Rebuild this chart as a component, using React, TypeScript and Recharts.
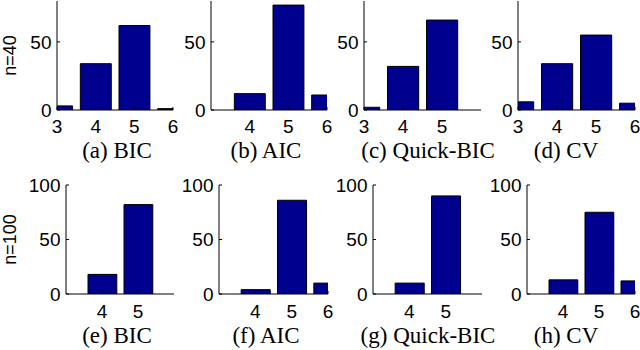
import React from 'react';
import { BarChart, Bar, XAxis, YAxis } from 'recharts';

// ---- data ----
const catsA = [3, 4, 5, 6];
const bicN40 = [3, 34, 62, 1];
const catsB = [4, 5, 6];
const aicN40 = [12, 77, 11];
const catsC = [3, 4, 5];
const quickBicN40 = [2, 32, 66];
const catsD = [3, 4, 5, 6];
const cvN40 = [6, 34, 55, 5];

const catsE = [4, 5];
const bicN100 = [18, 82];
const catsF = [4, 5, 6];
const aicN100 = [4, 86, 10];
const catsG = [4, 5];
const quickBicN100 = [10, 90];
const catsH = [4, 5, 6];
const cvN100 = [13, 75, 12];

const xTicksA = [3, 4, 5, 6];
const xTicksB = [4, 5, 6];
const xTicksC = [3, 4, 5];
const xTicksD = [3, 4, 5, 6];
const xTicksE = [4, 5];
const xTicksF = [4, 5, 6];
const xTicksG = [4, 5];
const xTicksH = [4, 5, 6];

const xDomain = [3, 6];
const yTicksN40 = [0, 50];
const yTicksN100 = [0, 50, 100];
const yMaxN40 = 80;
const yMaxN100 = 100;

const captionsTop = ['(a) BIC', '(b) AIC', '(c) Quick-BIC', '(d) CV'];
const captionsBottom = ['(e) BIC', '(f) AIC', '(g) Quick-BIC', '(h) CV'];
const rowLabels = ['n=40', 'n=100'];

// ---- layout ----
const BAR_FILL = '#00008F';
const SANS = '"Liberation Sans", Arial, sans-serif';
const SERIF = '"Liberation Serif", "Times New Roman", serif';

type PanelProps = {
  left: number; right: number; top: number; bottom: number;
  cats: number[]; vals: number[]; xTicks: number[]; yTicks: number[]; yMax: number;
  caption: string; captionCenter: number; captionBaseline: number; tickMargin: number;
  rowLabel?: string;
};

function Panel(p: PanelProps) {
  const yAxisW = p.rowLabel ? p.left : 42;
  const chartLeft = p.left - yAxisW;
  const mTop = 14;
  const mRight = 40;
  const mBottom = 10;
  const plotW = p.right - p.left;
  const plotH = p.bottom - p.top;
  const xAxisH = p.captionBaseline - p.bottom;
  const width = yAxisW + plotW + mRight;
  const height = mTop + plotH + xAxisH + mBottom;
  const data = p.cats.map((k, i) => ({ k, v: p.vals[i] }));
  const barSize = (0.8 * plotW) / (xDomain[1] - xDomain[0]);
  const tickStyle = { fontFamily: SANS, fontSize: 19, fill: '#000' };
  const captionDx = p.captionCenter - (p.left + p.right) / 2;

  return (
    <div style={{ position: 'absolute', left: chartLeft, top: p.top - mTop, width, height }}>
      <BarChart
        width={width}
        height={height}
        data={data}
        margin={{ top: mTop, right: mRight, bottom: mBottom, left: 0 }}
        barCategoryGap="10%"
      >
        <XAxis
          xAxisId="b"
          dataKey="k"
          type="number"
          domain={xDomain}
          allowDataOverflow
          ticks={p.xTicks}
          interval={0}
          height={xAxisH}
          tickSize={-3}
          tickMargin={p.tickMargin}
          tick={tickStyle}
          axisLine={{ stroke: '#000', strokeWidth: 1 }}
          tickLine={{ stroke: '#000', strokeWidth: 1 }}
          label={{
            value: p.caption,
            position: 'insideBottom',
            offset: 0,
            dx: captionDx,
            style: { fontFamily: SERIF, fontSize: 23, fill: '#000' },
          }}
        />
        <XAxis
          xAxisId="t"
          orientation="top"
          dataKey="k"
          type="number"
          domain={xDomain}
          allowDataOverflow
          ticks={p.xTicks}
          interval={0}
          height={0}
          tickSize={-3}
          tickFormatter={() => ''}
          axisLine={{ stroke: '#000', strokeWidth: 1 }}
          tickLine={{ stroke: '#000', strokeWidth: 1 }}
        />
        <YAxis
          yAxisId="l"
          type="number"
          domain={[0, p.yMax]}
          allowDataOverflow
          ticks={p.yTicks}
          interval={0}
          width={yAxisW}
          tickSize={-3}
          tickMargin={8.5}
          tick={tickStyle}
          axisLine={{ stroke: '#000', strokeWidth: 1 }}
          tickLine={{ stroke: '#000', strokeWidth: 1 }}
          label={
            p.rowLabel
              ? {
                  value: p.rowLabel,
                  position: 'center',
                  angle: -90,
                  dx: 10 - yAxisW / 2,
                  style: { fontFamily: SANS, fontSize: 18, fill: '#000' },
                }
              : undefined
          }
        />
        <YAxis
          yAxisId="r"
          orientation="right"
          type="number"
          domain={[0, p.yMax]}
          allowDataOverflow
          ticks={p.yTicks}
          interval={0}
          width={0}
          tickSize={-3}
          tickFormatter={() => ''}
          axisLine={{ stroke: '#000', strokeWidth: 1 }}
          tickLine={{ stroke: '#000', strokeWidth: 1 }}
        />
        <Bar
          xAxisId="b"
          yAxisId="l"
          dataKey="v"
          barSize={barSize}
          fill={BAR_FILL}
          stroke="#000"
          strokeWidth={1}
          isAnimationActive={false}
        />
      </BarChart>
    </div>
  );
}

const topFrames = [
  [57, 173],
  [211, 327],
  [364, 481],
  [518, 635],
];
const bottomFrames = [
  [66, 174],
  [219, 328],
  [373, 482],
  [527, 635],
];
const captionCenters = [117, 266, 428, 566];

const topSeries = [
  { cats: catsA, vals: bicN40, ticks: xTicksA },
  { cats: catsB, vals: aicN40, ticks: xTicksB },
  { cats: catsC, vals: quickBicN40, ticks: xTicksC },
  { cats: catsD, vals: cvN40, ticks: xTicksD },
];
const bottomSeries = [
  { cats: catsE, vals: bicN100, ticks: xTicksE },
  { cats: catsF, vals: aicN100, ticks: xTicksF },
  { cats: catsG, vals: quickBicN100, ticks: xTicksG },
  { cats: catsH, vals: cvN100, ticks: xTicksH },
];

export default function App() {
  return (
    <div style={{ position: 'absolute', left: 0, top: 0, width: 640, height: 350, background: '#fff', overflow: 'hidden' }}>
      {topSeries.map((s, i) => (
        <Panel
          key={'t' + i}
          left={topFrames[i][0]}
          right={topFrames[i][1]}
          top={1}
          bottom={110}
          cats={s.cats}
          vals={s.vals}
          xTicks={s.ticks}
          yTicks={yTicksN40}
          yMax={yMaxN40}
          caption={captionsTop[i]}
          captionCenter={captionCenters[i]}
          captionBaseline={158}
          tickMargin={12.5}
          rowLabel={i === 0 ? rowLabels[0] : undefined}
        />
      ))}
      {bottomSeries.map((s, i) => (
        <Panel
          key={'b' + i}
          left={bottomFrames[i][0]}
          right={bottomFrames[i][1]}
          top={185}
          bottom={294}
          cats={s.cats}
          vals={s.vals}
          xTicks={s.ticks}
          yTicks={yTicksN100}
          yMax={yMaxN100}
          caption={captionsBottom[i]}
          captionCenter={captionCenters[i]}
          captionBaseline={343}
          tickMargin={13.5}
          rowLabel={i === 0 ? rowLabels[1] : undefined}
        />
      ))}
    </div>
  );
}
